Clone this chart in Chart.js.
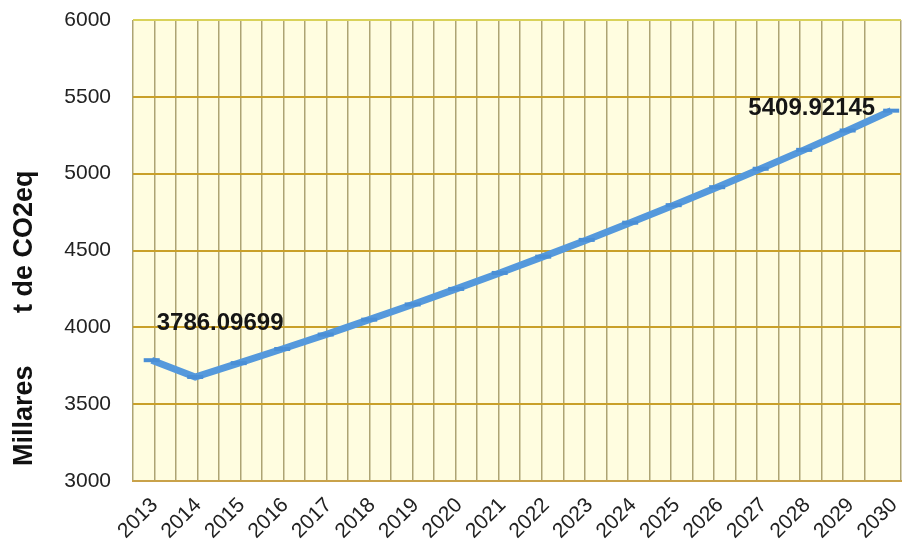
<!DOCTYPE html>
<html>
<head>
<meta charset="utf-8">
<script src="https://cdn.jsdelivr.net/npm/chart.js@4/dist/chart.umd.min.js"></script>
<style>
html,body{margin:0;padding:0;background:#ffffff;}
#wrap{width:913px;height:547px;position:relative;}
</style>
</head>
<body>
<div id="wrap"><canvas id="c"></canvas></div>
<script>
// ---- data ----
const years = [2013,2014,2015,2016,2017,2018,2019,2020,2021,2022,2023,2024,2025,2026,2027,2028,2029,2030];
const emissions = [3786.09699,3677,3767,3859,3953,4050,4149,4250,4354,4460,4569,4681,4795,4912,5032,5155,5281,5409.92145];
const yTickValues = [3000,3500,4000,4500,5000,5500,6000];
const yTitle = '  Millares       t de CO2eq';
const labelledPoints = [0, 17];

const FONT = '"Liberation Sans", Arial, sans-serif';

const plotBg = {
  id: 'plotBg',
  beforeDraw(chart) {
    const a = chart.chartArea, ctx = chart.ctx;
    ctx.save();
    ctx.fillStyle = '#FFFDE0';
    ctx.fillRect(a.left, a.top, a.right - a.left, a.bottom - a.top);
    ctx.restore();
  }
};

const pointLabels = {
  id: 'pointLabels',
  afterDatasetsDraw(chart) {
    const meta = chart.getDatasetMeta(0), ctx = chart.ctx;
    ctx.save();
    ctx.font = 'bold 24px ' + FONT;
    ctx.fillStyle = '#151515';
    ctx.textBaseline = 'middle';
    labelledPoints.forEach((i, k) => {
      const p = meta.data[i];
      const txt = emissions[i].toFixed(5);
      if (k === 0) { ctx.textAlign = 'left'; ctx.fillText(txt, p.x + 5, p.y - 37); }
      else { ctx.textAlign = 'right'; ctx.fillText(txt, p.x - 16, p.y - 2); }
    });
    ctx.restore();
  }
};

new Chart(document.getElementById('c'), {
  type: 'line',
  data: {
    datasets: [{
      data: years.map((y, i) => ({x: y, y: emissions[i]})),
      borderColor: '#5599DC',
      borderWidth: 7,
      tension: 0,
      pointStyle: 'line',
      pointRadius: 8,
      pointBorderWidth: 4,
      pointBorderColor: '#4A8FD6',
      pointBackgroundColor: '#4A8FD6',
      clip: false
    }]
  },
  options: {
    responsive: true,
    maintainAspectRatio: false,
    animation: false,
    layout: {padding: {top: 20, right: 0, bottom: 0, left: 0}},
    plugins: {legend: {display: false}, tooltip: {enabled: false}},
    scales: {
      x: {
        type: 'linear',
        position: 'bottom',
        min: 2012.57,
        max: 2030.226,
        afterBuildTicks: s => { s.ticks = years.map(v => ({value: v})); },
        afterFit: s => { s.height = 66; s.paddingRight = 0; s.paddingLeft = 0; },
        grid: {display: false},
        border: {display: true, color: '#C9A24A', width: 2},
        ticks: {
          autoSkip: false,
          minRotation: 45,
          maxRotation: 45,
          padding: 4,
          labelOffset: 3,
          color: '#222',
          font: {family: FONT, size: 21},
          callback: v => String(v)
        }
      },
      xg: {
        type: 'linear',
        position: 'top',
        min: 0,
        max: 35.7,
        afterFit: s => { s.height = 0; s.paddingLeft = 0; s.paddingRight = 0; },
        ticks: {display: false, stepSize: 1},
        grid: {display: true, color: '#ADA474', lineWidth: 1.5, drawTicks: false},
        border: {display: false}
      },
      y: {
        min: 3000,
        max: 6000,
        afterBuildTicks: s => { s.ticks = yTickValues.map(v => ({value: v})); },
        afterFit: s => { s.width = 133; s.paddingTop = 0; s.paddingBottom = 0; },
        grid: {
          color: ctx => ctx.tick && ctx.tick.value === 6000 ? '#D9D25A' : '#C9A02A',
          lineWidth: 2,
          drawTicks: false
        },
        border: {display: false},
        ticks: {
          padding: 22,
          color: '#222',
          font: {family: FONT, size: 21},
          callback: v => String(v)
        },
        title: {
          display: true,
          text: yTitle,
          align: 'start',
          color: '#111',
          font: {family: FONT, size: 27, weight: 'bold'},
          padding: {top: 8, bottom: 0}
        }
      }
    }
  },
  plugins: [plotBg, pointLabels]
});
</script>
</body>
</html>
